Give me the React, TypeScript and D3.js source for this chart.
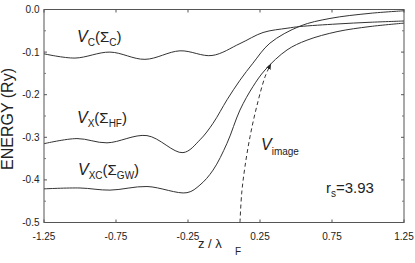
import React from "react";
import * as d3 from "d3";

const W = 415;
const H = 263;

const xTicks = [-1.25, -0.75, -0.25, 0.25, 0.75, 1.25];
const xTickLabels = ["-1.25", "-0.75", "-0.25", "0.25", "0.75", "1.25"];
const yTicks = [0, -0.1, -0.2, -0.3, -0.4, -0.5];
const yTickLabels = ["0.0", "-0.1", "-0.2", "-0.3", "-0.4", "-0.5"];
const yMinorTicks = [-0.05, -0.15, -0.25, -0.35, -0.45];

const zVc = [-1.25, -1.035, -0.792, -0.549, -0.306, -0.083, 0.111, 0.271, 0.438, 0.528, 0.785, 1.014, 1.25];
const eVc = [-0.104, -0.114, -0.1, -0.117, -0.097, -0.108, -0.08, -0.054, -0.044, -0.04, -0.034, -0.03, -0.027];

const zVx = [-1.25, -1.021, -0.8125, -0.535, -0.285, -0.167, -0.076, 0.021, 0.111, 0.201, 0.319, 0.528, 0.736, 1.014, 1.25];
const eVx = [-0.315, -0.303, -0.313, -0.296, -0.336, -0.306, -0.267, -0.212, -0.166, -0.126, -0.079, -0.039, -0.021, -0.009, -0.003];

const zVxc = [-1.25, -1.0, -0.792, -0.535, -0.257, -0.167, -0.076, 0.021, 0.111, 0.201, 0.285, 0.4375, 0.576, 0.785, 1.014, 1.25];
const eVxc = [-0.421, -0.419, -0.424, -0.4155, -0.43, -0.412, -0.377, -0.314, -0.236, -0.181, -0.142, -0.095, -0.072, -0.052, -0.04, -0.032];

const zImg = [0.111, 0.123, 0.146, 0.181, 0.227, 0.285, 0.325];
const eImg = [-0.5, -0.431, -0.368, -0.298, -0.228, -0.158, -0.128];

const FONT = "Arial, 'Liberation Sans', Helvetica, sans-serif";

export default function App() {
  const x = d3.scaleLinear().domain([-1.25, 1.25]).range([44, 404]);
  const y = d3.scaleLinear().domain([-0.5, 0]).range([222.5, 9.5]);

  const line = d3
    .line<[number, number]>()
    .x((d) => x(d[0]))
    .y((d) => y(d[1]))
    .curve(d3.curveCatmullRom.alpha(0.5));

  const pts = (zs: number[], es: number[]) => zs.map((z, i) => [z, es[i]] as [number, number]);

  const [x0, x1] = x.range();
  const [y0, y1] = [y(0), y(-0.5)];
  const lineColor = "#333";
  const tickLen = 3;

  return (
    <svg
      width={W}
      height={H}
      style={{ position: "absolute", left: 0, top: 0, background: "#fff" }}
      fontFamily={FONT}
    >
      <defs>
        <marker id="arr" viewBox="0 0 10 10" refX="9" refY="5" markerWidth="6" markerHeight="6" orient="auto">
          <path d="M0,1 L10,5 L0,9 z" fill="#222" />
        </marker>
      </defs>
      <rect x={x0} y={y0} width={x1 - x0} height={y1 - y0} fill="none" stroke="#555" strokeWidth={1} />
      {xTicks.map((t, i) => (
        <g key={"xt" + i}>
          <line x1={x(t)} x2={x(t)} y1={y1} y2={y1 - tickLen} stroke="#555" />
          <line x1={x(t)} x2={x(t)} y1={y0} y2={y0 + tickLen} stroke="#555" />
          <text x={x(t)} y={240} fontSize={10} textAnchor="middle" fill="#222">
            {xTickLabels[i]}
          </text>
        </g>
      ))}
      {yTicks.map((t, i) => (
        <g key={"yt" + i}>
          <line x1={x0} x2={x0 + tickLen} y1={y(t)} y2={y(t)} stroke="#555" />
          <line x1={x1} x2={x1 - tickLen} y1={y(t)} y2={y(t)} stroke="#555" />
          <text x={39.5} y={y(t) + 3.5} fontSize={10} textAnchor="end" fill="#222">
            {yTickLabels[i]}
          </text>
        </g>
      ))}
      {yMinorTicks.map((t, i) => (
        <g key={"ym" + i}>
          <line x1={x0} x2={x0 + 2} y1={y(t)} y2={y(t)} stroke="#777" />
          <line x1={x1} x2={x1 - 2} y1={y(t)} y2={y(t)} stroke="#777" />
        </g>
      ))}
      <path d={line(pts(zVc, eVc)) || ""} fill="none" stroke={lineColor} strokeWidth={1} />
      <path d={line(pts(zVx, eVx)) || ""} fill="none" stroke={lineColor} strokeWidth={1} />
      <path d={line(pts(zVxc, eVxc)) || ""} fill="none" stroke={lineColor} strokeWidth={1} />
      <path
        d={line(pts(zImg, eImg)) || ""}
        fill="none"
        stroke={lineColor}
        strokeWidth={1}
        strokeDasharray="4,3"
        markerEnd="url(#arr)"
      />
      <text x={77} y={42} fill="#222" fontSize={15}>
        <tspan fontStyle="italic" fontSize={16}>V</tspan>
        <tspan fontSize={10} dy={4}>C</tspan>
        <tspan dy={-4}>(Σ</tspan>
        <tspan fontSize={10} dy={4}>C</tspan>
        <tspan dy={-4}>)</tspan>
      </text>
      <text x={77} y={123} fill="#222" fontSize={15}>
        <tspan fontStyle="italic" fontSize={16}>V</tspan>
        <tspan fontSize={10} dy={4}>X</tspan>
        <tspan dy={-4}>(Σ</tspan>
        <tspan fontSize={10} dy={4}>HF</tspan>
        <tspan dy={-4}>)</tspan>
      </text>
      <text x={78} y={175} fill="#222" fontSize={15}>
        <tspan fontStyle="italic" fontSize={16}>V</tspan>
        <tspan fontSize={10} dy={4}>XC</tspan>
        <tspan dy={-4}>(Σ</tspan>
        <tspan fontSize={10} dy={4}>GW</tspan>
        <tspan dy={-4}>)</tspan>
      </text>
      <text x={261} y={150} fill="#222" fontSize={15}>
        <tspan fontStyle="italic" fontSize={16}>V</tspan>
        <tspan fontSize={10} dy={5}>image</tspan>
      </text>
      <text x={326} y={193} fill="#222" fontSize={15}>
        <tspan>r</tspan>
        <tspan fontSize={10} dy={4}>s</tspan>
        <tspan dy={-4}>=3.93</tspan>
      </text>
      <text x={198} y={248} fontSize={13} fill="#222">
        <tspan>z / λ</tspan>
        <tspan fontSize={10} x={235} dy={7}>F</tspan>
      </text>
      <text
        transform={`translate(13, 119) rotate(-90)`}
        textAnchor="middle"
        fontSize={16}
        fill="#222"
      >
        ENERGY (Ry)
      </text>
    </svg>
  );
}
